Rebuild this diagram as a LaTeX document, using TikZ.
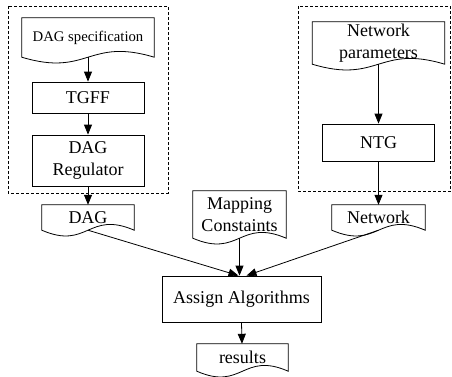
\documentclass[tikz,border=0pt]{standalone}
\usepackage{fontspec}
\setmainfont{Liberation Serif}
\usetikzlibrary{arrows.meta,calc}
\newcommand\docwave[1]{%
  \draw[docline] let \p1=(#1.south west), \p2=(#1.north east) in
    (\x1,\y1) -- (\x1,\y2) -- (\x2,\y2) -- (\x2,\y1)
    .. controls ({0.5*(\x1+\x2)},\y1+20pt) and ({0.5*(\x1+\x2)},\y1-20pt) .. (\x1,\y1) -- cycle;}
\begin{document}
\begin{tikzpicture}[x=1pt,y=-1pt,
  every node/.style={font=\fontsize{18}{22}\selectfont, align=center, inner sep=0pt},
  proc/.style={draw, line width=0.8pt, rectangle},
  doc/.style={rectangle},
  docline/.style={line width=0.8pt},
  grp/.style={draw, dash pattern=on 3pt off 2pt, line width=0.8pt},
  arr/.style={line width=0.8pt, -{Triangle[length=10pt,width=8pt]}},
]
\useasboundingbox (0,0) rectangle (452,376);
% groups
\draw[grp] (8,6) rectangle (168,193);
\draw[grp] (298,6) rectangle (450.5,191);
% left column
\node[doc, minimum width=132pt, minimum height=39pt, font=\fontsize{14.7}{17}\selectfont] (spec) at (88,37.5) {DAG specification};
\docwave{spec}
\node[proc, minimum width=112pt, minimum height=31pt] (tgff) at (88,97.5) {TGFF};
\node[proc, minimum width=112pt, minimum height=51pt] (reg) at (88,160.5) {DAG\\Regulator};
\node[doc, minimum width=92pt, minimum height=25pt] (dag) at (88,217.5) {DAG};
\docwave{dag}
% middle
\node[doc, minimum width=93pt, minimum height=47pt] (map) at (239.5,214.5) {Mapping\\Constaints};
\docwave{map}
% right column
\node[doc, minimum width=132pt, minimum height=42pt] (netp) at (378.5,43) {Network\\parameters};
\docwave{netp}
\node[proc, minimum width=112pt, minimum height=37pt] (ntg) at (378.5,142.5) {NTG};
\node[doc, minimum width=93pt, minimum height=25pt] (net) at (378.5,217.5) {Network};
\docwave{net}
% bottom
\node[proc, minimum width=159pt, minimum height=46pt] (assign) at (241.5,299) {Assign Algorithms};
\node[doc, minimum width=91pt, minimum height=27pt] (res) at (242.5,357.5) {results};
\docwave{res}
% connectors
\draw[arr] (spec.south) -- (tgff.north);
\draw[arr] (tgff.south) -- (reg.north);
\draw[arr] (reg.south) -- (dag.north);
\draw[arr] (netp.south) -- (ntg.north);
\draw[arr] (ntg.south) -- (net.north);
\draw[arr] (dag.south) -- ([xshift=-3pt]assign.north);
\draw[arr] (map.south) -- ([xshift=-2pt]assign.north);
\draw[arr] (net.south) -- ([xshift=5pt]assign.north);
\draw[arr] (assign.south) -- ([xshift=-0.5pt]res.north);
\end{tikzpicture}
\end{document}
